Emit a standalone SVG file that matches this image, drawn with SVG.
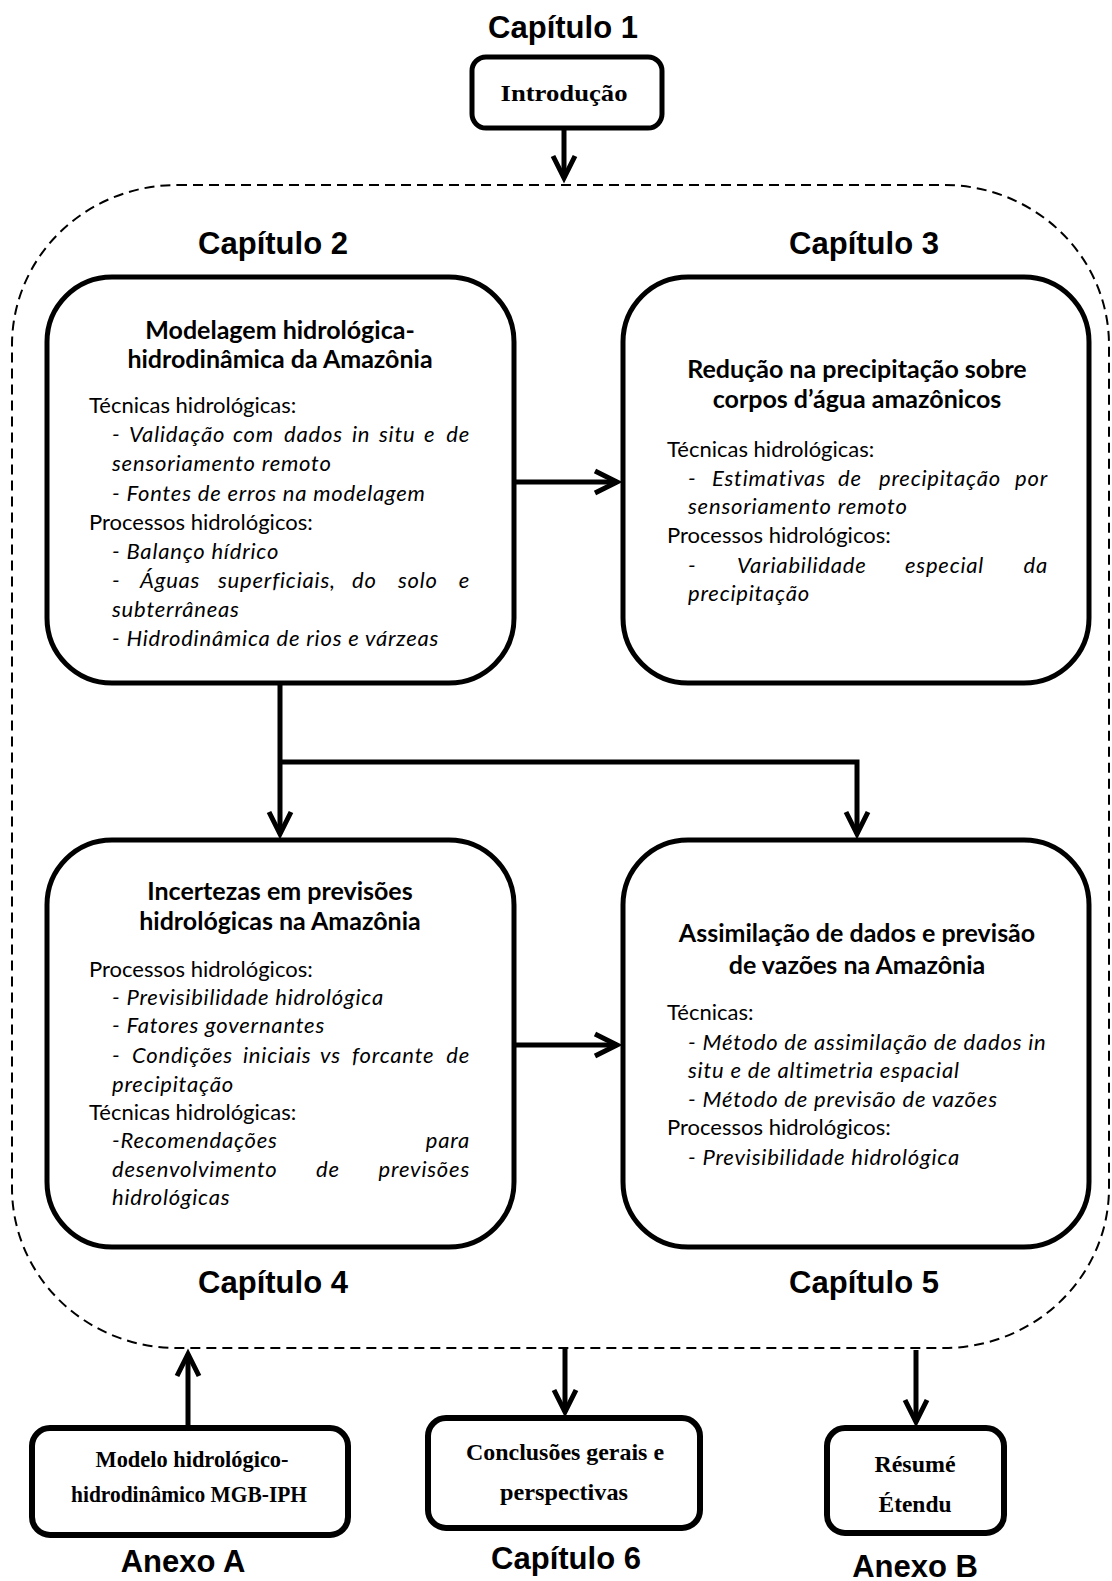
<svg xmlns="http://www.w3.org/2000/svg" width="1112" height="1581" viewBox="0 0 1112 1581">
<defs>
<marker id="arr" markerUnits="userSpaceOnUse" markerWidth="40" markerHeight="40" viewBox="-30 -20 40 40" refX="0" refY="0" orient="auto" overflow="visible">
<path d="M-22,-11 L0,0 L-22,11" fill="none" stroke="#000" stroke-width="5" stroke-linejoin="miter" stroke-miterlimit="10"/>
</marker>
<style>
.cap{font-family:"Liberation Sans",Arial,sans-serif;font-weight:bold;font-size:31px;text-anchor:middle;fill:#000}
.box{fill:#fff;stroke:#000;stroke-width:5}
.sbox{fill:#fff;stroke:#000;stroke-width:6}
.ttl{font-family:Lato,"Open Sans",sans-serif;font-weight:bold;font-size:25px;text-anchor:middle;fill:#000}
.bd{font-family:Lato,"Open Sans",sans-serif;font-size:22px;fill:#000}
.it{font-style:italic;letter-spacing:0.8px}
.end{text-anchor:end}
.tnr{font-family:"Liberation Serif","Times New Roman",serif;font-weight:bold;font-size:23px;text-anchor:middle;fill:#000}
.con{fill:none;stroke:#000;stroke-width:5}
.dash{fill:none;stroke:#000;stroke-width:2;stroke-dasharray:10 6}
</style>
</defs>
<rect width="1112" height="1581" fill="#fff"/>

<g id="container">
<rect class="dash" x="12" y="185" width="1097" height="1163" rx="165" ry="160"/>
</g>

<g id="labels">
<text class="cap" x="563" y="38">Capítulo 1</text>
<text class="cap" x="273" y="254">Capítulo 2</text>
<text class="cap" x="864" y="254">Capítulo 3</text>
<text class="cap" x="273" y="1293">Capítulo 4</text>
<text class="cap" x="864" y="1293">Capítulo 5</text>
<text class="cap" x="183" y="1572">Anexo A</text>
<text class="cap" x="566" y="1569">Capítulo 6</text>
<text class="cap" x="915" y="1577">Anexo B</text>
</g>

<g id="intro">
<rect class="box" x="472" y="57" width="190" height="71" rx="14"/>
<text class="tnr" x="564" y="101" textLength="127" lengthAdjust="spacingAndGlyphs">Introdução</text>
</g>

<g id="cap2">
<rect class="box" x="47" y="277" width="467" height="406" rx="65"/>
<text class="ttl" x="280" y="339">Modelagem hidrológica-</text>
<text class="ttl" x="280" y="368">hidrodinâmica da Amazônia</text>
<text class="bd" x="89" y="413">Técnicas hidrológicas:</text>
<text class="bd it" y="442"><tspan x="112">-</tspan><tspan x="129">Validação</tspan><tspan x="233">com</tspan><tspan x="284">dados</tspan><tspan x="352">in</tspan><tspan x="379">situ</tspan><tspan x="424">e</tspan></text>
<text class="bd it end" x="470" y="442">de</text>
<text class="bd it" x="112" y="471">sensoriamento remoto</text>
<text class="bd it" x="112" y="500.5">- Fontes de erros na modelagem</text>
<text class="bd" x="89" y="529.5">Processos hidrológicos:</text>
<text class="bd it" x="112" y="559">- Balanço hídrico</text>
<text class="bd it" y="588"><tspan x="112">-</tspan><tspan x="140">Águas</tspan><tspan x="218">superficiais,</tspan><tspan x="352">do</tspan><tspan x="398">solo</tspan></text>
<text class="bd it end" x="470" y="588">e</text>
<text class="bd it" x="112" y="617">subterrâneas</text>
<text class="bd it" x="112" y="646">- Hidrodinâmica de rios e várzeas</text>
</g>

<g id="cap3">
<rect class="box" x="623" y="277" width="466" height="406" rx="65"/>
<text class="ttl" x="857" y="378">Redução na precipitação sobre</text>
<text class="ttl" x="857" y="408">corpos d’água amazônicos</text>
<text class="bd" x="667" y="457">Técnicas hidrológicas:</text>
<text class="bd it" y="486"><tspan x="688">-</tspan><tspan x="712">Estimativas</tspan><tspan x="838">de</tspan><tspan x="879">precipitação</tspan></text>
<text class="bd it end" x="1048" y="486">por</text>
<text class="bd it" x="688" y="514">sensoriamento remoto</text>
<text class="bd" x="667" y="543">Processos hidrológicos:</text>
<text class="bd it" y="573"><tspan x="688">-</tspan><tspan x="737">Variabilidade</tspan><tspan x="905">especial</tspan></text>
<text class="bd it end" x="1048" y="573">da</text>
<text class="bd it" x="688" y="601">precipitação</text>
</g>

<g id="cap4">
<rect class="box" x="47" y="840" width="467" height="407" rx="65"/>
<text class="ttl" x="280" y="900">Incertezas em previsões</text>
<text class="ttl" x="280" y="930">hidrológicas na Amazônia</text>
<text class="bd" x="89" y="977">Processos hidrológicos:</text>
<text class="bd it" x="112" y="1005">- Previsibilidade hidrológica</text>
<text class="bd it" x="112" y="1033">- Fatores governantes</text>
<text class="bd it" y="1063"><tspan x="112">-</tspan><tspan x="132">Condições</tspan><tspan x="243">iniciais</tspan><tspan x="320">vs</tspan><tspan x="352">forcante</tspan></text>
<text class="bd it end" x="470" y="1063">de</text>
<text class="bd it" x="112" y="1092">precipitação</text>
<text class="bd" x="89" y="1120">Técnicas hidrológicas:</text>
<text class="bd it" x="112" y="1148">-Recomendações</text>
<text class="bd it end" x="470" y="1148">para</text>
<text class="bd it" y="1177"><tspan x="112">desenvolvimento</tspan><tspan x="316">de</tspan></text>
<text class="bd it end" x="470" y="1177">previsões</text>
<text class="bd it" x="112" y="1205">hidrológicas</text>
</g>

<g id="cap5">
<rect class="box" x="623" y="840" width="466" height="407" rx="65"/>
<text class="ttl" x="857" y="942">Assimilação de dados e previsão</text>
<text class="ttl" x="857" y="974">de vazões na Amazônia</text>
<text class="bd" x="667" y="1020">Técnicas:</text>
<text class="bd it" x="688" y="1050">- Método de assimilação de dados in</text>
<text class="bd it" x="688" y="1078">situ e de altimetria espacial</text>
<text class="bd it" x="688" y="1107">- Método de previsão de vazões</text>
<text class="bd" x="667" y="1135">Processos hidrológicos:</text>
<text class="bd it" x="688" y="1165">- Previsibilidade hidrológica</text>
</g>

<g id="anexoA">
<rect class="sbox" x="32" y="1428" width="316" height="107" rx="18"/>
<text class="tnr" x="192" y="1467" textLength="193" lengthAdjust="spacingAndGlyphs">Modelo hidrológico-</text>
<text class="tnr" x="189" y="1502" textLength="236" lengthAdjust="spacingAndGlyphs">hidrodinâmico MGB-IPH</text>
</g>

<g id="cap6">
<rect class="sbox" x="428" y="1418" width="272" height="110" rx="18"/>
<text class="tnr" x="565" y="1460" textLength="198" lengthAdjust="spacingAndGlyphs">Conclusões gerais e</text>
<text class="tnr" x="564" y="1500" textLength="128" lengthAdjust="spacingAndGlyphs">perspectivas</text>
</g>

<g id="anexoB">
<rect class="sbox" x="827" y="1428" width="177" height="105" rx="18"/>
<text class="tnr" x="915" y="1472" textLength="81" lengthAdjust="spacingAndGlyphs">Résumé</text>
<text class="tnr" x="915" y="1512" textLength="73" lengthAdjust="spacingAndGlyphs">Étendu</text>
</g>

<g id="connectors">
<path class="con" d="M564,128 V178" marker-end="url(#arr)"/>
<path class="con" d="M514,482 H617" marker-end="url(#arr)"/>
<path class="con" d="M280,683 V834" marker-end="url(#arr)"/>
<path class="con" d="M280,762 H857 V834" marker-end="url(#arr)"/>
<path class="con" d="M514,1045 H617" marker-end="url(#arr)"/>
<path class="con" d="M565,1348 V1412" marker-end="url(#arr)"/>
<path class="con" d="M916,1350 V1422" marker-end="url(#arr)"/>
<path class="con" d="M188,1428 V1354" marker-end="url(#arr)"/>
</g>
</svg>
